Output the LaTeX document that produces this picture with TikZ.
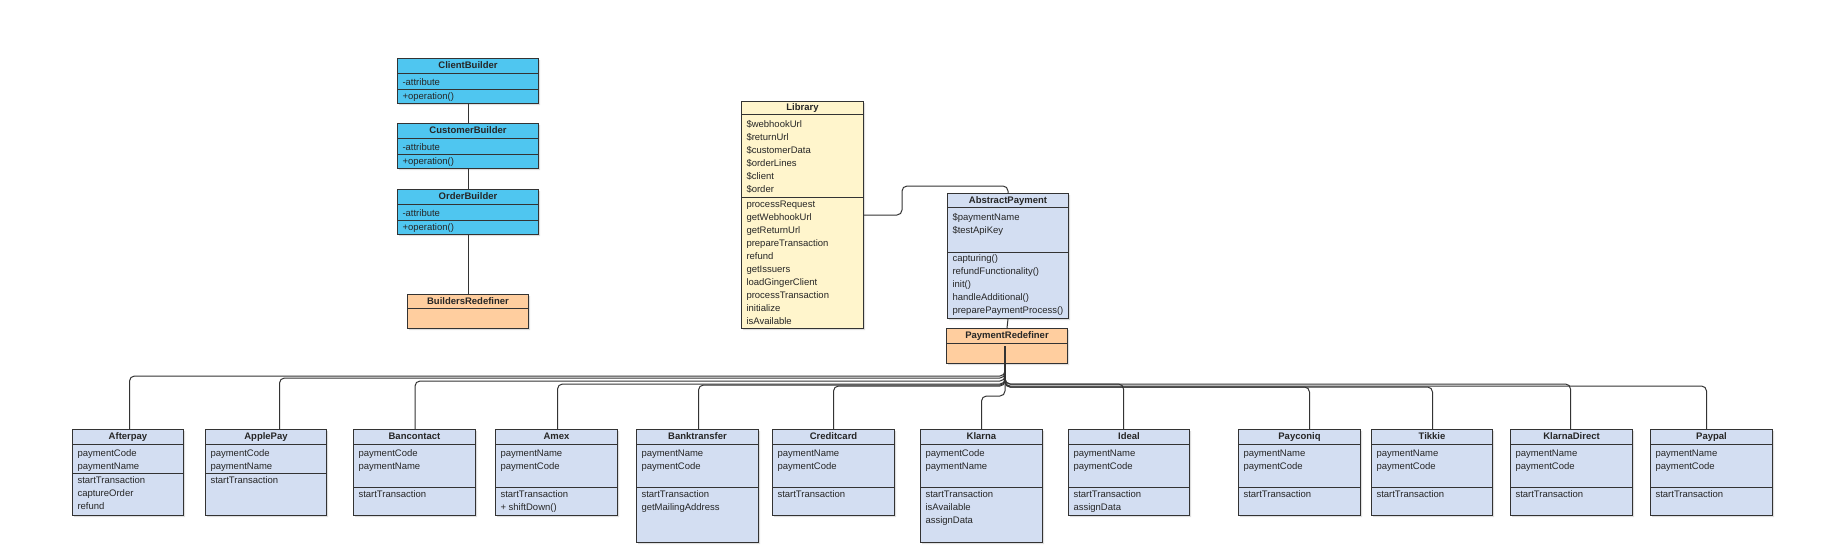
\documentclass[tikz,border=0pt]{standalone}
\usepackage{fontspec}
\setmainfont{Liberation Sans}
\usepackage{xcolor}
\usepackage{tikz}
\usetikzlibrary{positioning,shapes.multipart,shadows}

\definecolor{builderblue}{HTML}{4FC6F0}
\definecolor{classblue}{HTML}{D3DEF2}
\definecolor{redeforange}{HTML}{FFCE9F}
\definecolor{libyellow}{HTML}{FFF5CC}
\definecolor{umlline}{HTML}{333333}

% compartments of a class box: width, height, (first baseline), text
\newcommand{\clshead}[3]{\parbox[t][\dimexpr#2-1pt\relax][c]{#1}{\centering\strut\textbf{#3}}}
\newcommand{\clspart}[4]{\parbox[t][\dimexpr#2-1pt\relax][t]{#1}{\raggedright\rule{0pt}{#3}#4}}

\tikzset{
  umlclass/.style={rectangle split, rectangle split parts=3, draw=umlline, line width=1pt,
    inner xsep=5pt, inner ysep=0pt, anchor=north west, text=black!85,
    font=\fontsize{9.5}{13}\selectfont,
    drop shadow={shadow xshift=1.5pt, shadow yshift=-1.5pt, opacity=0.25}},
  builder/.style={umlclass, fill=builderblue},
  redef/.style={umlclass, rectangle split parts=2, fill=redeforange},
  payclass/.style={umlclass, fill=classblue},
  conn/.style={draw=umlline, line width=1pt, rounded corners=5pt}
}

\begin{document}
\begin{tikzpicture}[x=1pt, y=-1pt]
    \useasboundingbox (0,0) rectangle (1825,544);

    % Builders
    \node[builder] (clientb) at (397,58)
        {\clshead{131pt}{15pt}{ClientBuilder}
         \nodepart{two}\clspart{131pt}{16pt}{11.5pt}{-attribute}
         \nodepart{three}\clspart{131pt}{14pt}{9.5pt}{+operation()}};
    \node[builder, below=19pt of clientb] (customerb)
        {\clshead{131pt}{15pt}{CustomerBuilder}
         \nodepart{two}\clspart{131pt}{16pt}{11.5pt}{-attribute}
         \nodepart{three}\clspart{131pt}{14pt}{9.5pt}{+operation()}};
    \node[builder, below=20pt of customerb] (orderb)
        {\clshead{131pt}{15pt}{OrderBuilder}
         \nodepart{two}\clspart{131pt}{16pt}{11.5pt}{-attribute}
         \nodepart{three}\clspart{131pt}{14pt}{9.5pt}{+operation()}};
    \node[redef] (buildersredef) at (407,294)
        {\clshead{111pt}{14pt}{BuildersRedefiner}
         \nodepart{two}\clspart{111pt}{20pt}{0pt}{}};

    % Library and abstract payment
    \node[umlclass, fill=libyellow] (library) at (741,101)
        {\clshead{112pt}{13pt}{Library}
         \nodepart{two}\clspart{112pt}{83pt}{12.2pt}{\$webhookUrl\\ \$returnUrl\\ \$customerData\\ \$orderLines\\ \$client\\ \$order}
         \nodepart{three}\clspart{112pt}{131pt}{9.3pt}{processRequest\\ getWebhookUrl\\ getReturnUrl\\ prepareTransaction\\ refund\\ getIssuers\\ loadGingerClient\\ processTransaction\\ initialize\\ isAvailable}};
    \node[payclass] (abstractpay) at (947,193)
        {\clshead{111pt}{14pt}{AbstractPayment}
         \nodepart{two}\clspart{111pt}{45pt}{12.5pt}{\$paymentName\\ \$testApiKey}
         \nodepart{three}\clspart{111pt}{66pt}{8pt}{capturing()\\ refundFunctionality()\\ init()\\ handleAdditional()\\ preparePaymentProcess()}};
    \node[redef] (payredef) at (946,328)
        {\clshead{111pt}{15pt}{PaymentRedefiner}
         \nodepart{two}\clspart{111pt}{20pt}{0pt}{}};

    % Payment methods
    \node[payclass] (afterpay) at (72,429)
        {\clshead{101pt}{15pt}{Afterpay}
         \nodepart{two}\clspart{101pt}{29pt}{11pt}{paymentCode\\ paymentName}
         \nodepart{three}\clspart{101pt}{42pt}{9pt}{startTransaction\\ captureOrder\\ refund}};
    \node[payclass] (applepay) at (205,429)
        {\clshead{111pt}{15pt}{ApplePay}
         \nodepart{two}\clspart{111pt}{29pt}{11pt}{paymentCode\\ paymentName}
         \nodepart{three}\clspart{111pt}{42pt}{9pt}{startTransaction}};
    \node[payclass] (bancontact) at (353,429)
        {\clshead{112pt}{15pt}{Bancontact}
         \nodepart{two}\clspart{112pt}{43pt}{11pt}{paymentCode\\ paymentName}
         \nodepart{three}\clspart{112pt}{28pt}{9pt}{startTransaction}};
    \node[payclass] (amex) at (495,429)
        {\clshead{112pt}{15pt}{Amex}
         \nodepart{two}\clspart{112pt}{43pt}{11pt}{paymentName\\ paymentCode}
         \nodepart{three}\clspart{112pt}{28pt}{9pt}{startTransaction\\ + shiftDown()}};
    \node[payclass] (banktransfer) at (636,429)
        {\clshead{112pt}{15pt}{Banktransfer}
         \nodepart{two}\clspart{112pt}{43pt}{11pt}{paymentName\\ paymentCode}
         \nodepart{three}\clspart{112pt}{55pt}{9pt}{startTransaction\\ getMailingAddress}};
    \node[payclass] (creditcard) at (772,429)
        {\clshead{112pt}{15pt}{Creditcard}
         \nodepart{two}\clspart{112pt}{43pt}{11pt}{paymentName\\ paymentCode}
         \nodepart{three}\clspart{112pt}{28pt}{9pt}{startTransaction}};
    \node[payclass] (klarna) at (920,429)
        {\clshead{112pt}{15pt}{Klarna}
         \nodepart{two}\clspart{112pt}{43pt}{11pt}{paymentCode\\ paymentName}
         \nodepart{three}\clspart{112pt}{55pt}{9pt}{startTransaction\\ isAvailable\\ assignData}};
    \node[payclass] (ideal) at (1068,429)
        {\clshead{111pt}{15pt}{Ideal}
         \nodepart{two}\clspart{111pt}{43pt}{11pt}{paymentName\\ paymentCode}
         \nodepart{three}\clspart{111pt}{28pt}{9pt}{startTransaction\\ assignData}};
    \node[payclass] (payconiq) at (1238,429)
        {\clshead{112pt}{15pt}{Payconiq}
         \nodepart{two}\clspart{112pt}{43pt}{11pt}{paymentName\\ paymentCode}
         \nodepart{three}\clspart{112pt}{28pt}{9pt}{startTransaction}};
    \node[payclass] (tikkie) at (1371,429)
        {\clshead{111pt}{15pt}{Tikkie}
         \nodepart{two}\clspart{111pt}{43pt}{11pt}{paymentName\\ paymentCode}
         \nodepart{three}\clspart{111pt}{28pt}{9pt}{startTransaction}};
    \node[payclass] (klarnadirect) at (1510,429)
        {\clshead{112pt}{15pt}{KlarnaDirect}
         \nodepart{two}\clspart{112pt}{43pt}{11pt}{paymentName\\ paymentCode}
         \nodepart{three}\clspart{112pt}{28pt}{9pt}{startTransaction}};
    \node[payclass] (paypal) at (1650,429)
        {\clshead{112pt}{15pt}{Paypal}
         \nodepart{two}\clspart{112pt}{43pt}{11pt}{paymentName\\ paymentCode}
         \nodepart{three}\clspart{112pt}{28pt}{9pt}{startTransaction}};

    % Connectors
    \draw[conn] (clientb.south) -- (customerb.north);
    \draw[conn] (customerb.south) -- (orderb.north);
    \draw[conn] (orderb.south) -- (buildersredef.north);

    \coordinate (libbend) at (902,186);
    \draw[conn] (library.east) -| (libbend) -| (abstractpay.north);
    \draw[conn] (abstractpay.south) -- (payredef.north);

    \coordinate (trunk) at ([xshift=-2pt]payredef.center);
    \foreach \cls/\busy/\dx in {afterpay/376/1.5, applepay/378/13.5, bancontact/381/0.5,
        amex/384/1, banktransfer/385/1, creditcard/386/0, klarna/396/0, ideal/384/-5.5,
        payconiq/387/10, tikkie/387/0.5, klarnadirect/384/-1, paypal/386/-5}
        \draw[conn] (trunk) -- (trunk |- 0,\busy) -| ([xshift=\dx pt]\cls.north);
\end{tikzpicture}
\end{document}
